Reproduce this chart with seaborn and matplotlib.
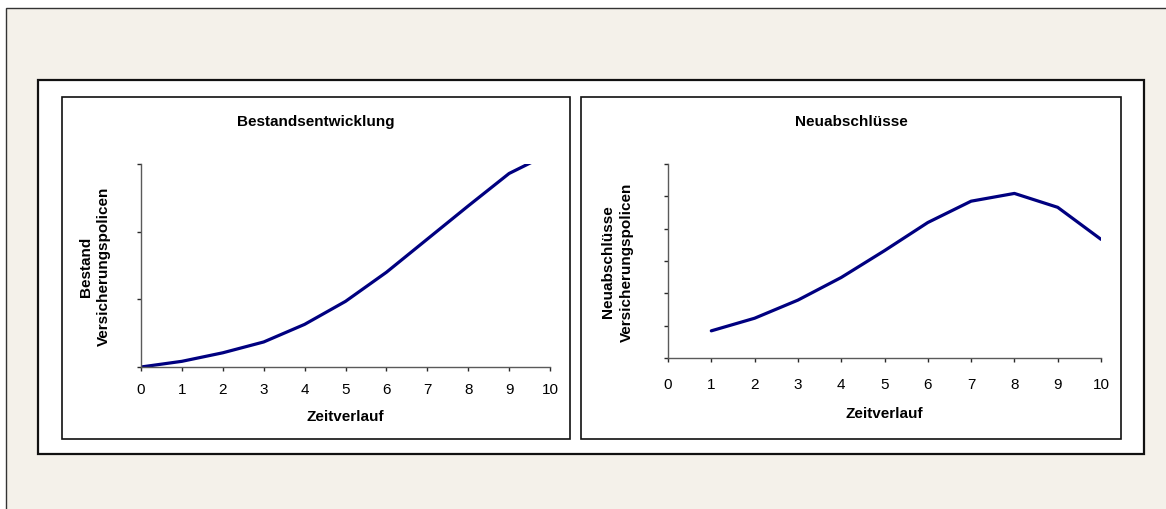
import matplotlib
matplotlib.use("Agg")
import matplotlib.pyplot as plt
from matplotlib.patches import Rectangle
import seaborn as sns

# Werte (Einheiten willkuerlich, Achse ohne Beschriftung)
zeit_bestand = [0, 1, 2, 3, 4, 5, 6, 7, 8, 9, 10]
bestand = [0, 84, 210, 370, 630, 970, 1400, 1890, 2380, 2860, 3160]

zeit_neu = [1, 2, 3, 4, 5, 6, 7, 8, 9, 10]
neuabschluesse = [84, 123, 179, 249, 332, 419, 485, 509, 466, 367]

x_ticks = list(range(0, 11))
titel = ["Bestandsentwicklung", "Neuabschlüsse"]
y_labels = ["Bestand\nVersicherungspolicen", "Neuabschlüsse\nVersicherungspolicen"]
x_label = "Zeitverlauf"

sns.set_style("white")
plt.rcParams['font.family'] = ['Liberation Sans', 'DejaVu Sans']
plt.rcParams['text.color'] = 'black'
plt.rcParams['axes.labelcolor'] = 'black'

W, H = 1166, 510
fig = plt.figure(figsize=(W / 100, H / 100), dpi=100)
fig.patch.set_facecolor("white")


def box(x0, y0, x1, y1, **kw):
    # Rechteck in Pixelkoordinaten (y von oben)
    r = Rectangle((x0 / W, 1 - y1 / H), (x1 - x0) / W, (y1 - y0) / H,
                  transform=fig.transFigure, **kw)
    fig.add_artist(r)


box(6, 9, 1300, 700, facecolor="#F4F1EA", edgecolor="#333333", lw=1.0, zorder=-5)
box(38, 81, 1144, 455, facecolor="white", edgecolor="#111111", lw=1.6, zorder=-4)
box(62, 98, 570, 440, facecolor="white", edgecolor="#111111", lw=1.2, zorder=-3)
box(581, 98, 1121, 440, facecolor="white", edgecolor="#111111", lw=1.2, zorder=-3)


def make_axes(left, right, top, bottom):
    return fig.add_axes([left / W, 1 - bottom / H, (right - left) / W, (bottom - top) / H])


ax1 = make_axes(141, 550, 165, 368)
ax2 = make_axes(668, 1101, 165, 359)

sns.lineplot(x=zeit_bestand, y=bestand, ax=ax1, color="#000080", lw=2.3)
sns.lineplot(x=zeit_neu, y=neuabschluesse, ax=ax2, color="#000080", lw=2.3)

ax1.set_ylim(0, 3000)
ax1.set_yticks([0, 1000, 2000, 3000])
ax2.set_ylim(0, 600)
ax2.set_yticks([0, 100, 200, 300, 400, 500, 600])

settings = [
    # ax, titel-mitte, achse unten, hoehe, links, breite, tick pad, xlabel oben, ylabel rechts, zeilenabstand
    (ax1, 316, 368, 203, 141, 409, 7.8, 410, 110.5, 1.28),
    (ax2, 851, 359, 194, 668, 433, 10.6, 407, 633.5, 1.42),
]

for i, (ax, tx, bot, hgt, lft, wid, pad, xl_top, yl_right, ls) in enumerate(settings):
    ax.set_facecolor("none")
    ax.set_xlim(0, 10)
    ax.set_xticks(x_ticks)
    ax.set_yticklabels([])
    for s in ["top", "right"]:
        ax.spines[s].set_visible(False)
    for s in ["left", "bottom"]:
        ax.spines[s].set_color("#5a5a5a")
        ax.spines[s].set_linewidth(1.0)
    ax.tick_params(axis="both", direction="out", length=3.2, width=1.0,
                   color="#2a2a2a", bottom=True, left=True)
    ax.tick_params(axis="x", pad=pad, labelsize=11, labelcolor="black")
    ax.grid(False)

    ax.set_title(titel[i], fontsize=11, fontweight="bold", color="black",
                 x=(tx - lft) / wid, y=1 + (165 - 122.5) / hgt, va="center", pad=0)

    ax.set_xlabel(x_label, fontsize=11, fontweight="bold")
    ax.xaxis.set_label_coords(0.5, -(xl_top - bot) / hgt)

    ax.set_ylabel(y_labels[i], fontsize=11, fontweight="bold", linespacing=ls)
    ax.yaxis.set_label_coords(-(lft - yl_right) / wid, 0.5)

fig.savefig("out.png", dpi=100)
